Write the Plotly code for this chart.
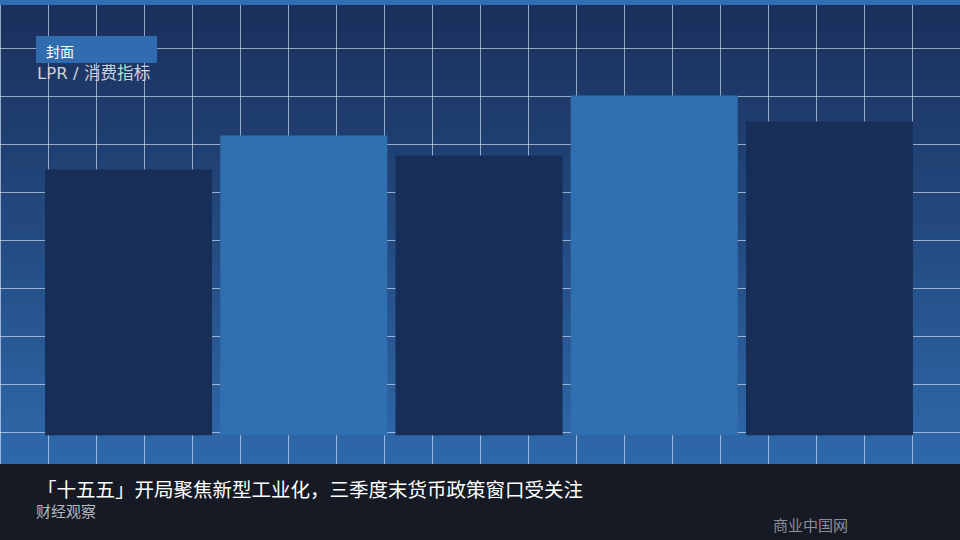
import plotly.graph_objects as go

# ---- data ----
categories = ["指标一", "指标二", "指标三", "指标四", "指标五"]
values = [2.66, 3.00, 2.80, 3.40, 3.14]
bar_colors = ["#172f58", "#3170b0", "#172f58", "#3170b0", "#172f58"]

tag_text = "封面"
subtitle_text = "LPR / 消费指标"
headline_text = "「十五五」开局聚焦新型工业化，三季度末货币政策窗口受关注"
section_text = "财经观察"
source_text = "商业中国网"

W, H = 960, 540
BAND_TOP = 464
FONT = "Noto Sans CJK SC, sans-serif"
FONT_LATIN = "DejaVu Sans, Noto Sans CJK SC, sans-serif"

fig = go.Figure()

# background gradient (pixel-space helper axes x/y)
fig.add_trace(go.Scatter(
    x=[0, W, W, 0, 0], y=[0, 0, BAND_TOP, BAND_TOP, 0],
    mode="lines", line=dict(width=0), fill="toself",
    fillgradient=dict(type="vertical", start=0, stop=BAND_TOP,
                      colorscale=[[0, "#1a2f5b"], [0.5, "#234a80"], [1, "#2f69aa"]]),
    hoverinfo="skip", showlegend=False, xaxis="x", yaxis="y"))

# grid lines
gx, gy = [], []
for k in range(0, W + 1, 48):
    gx += [k + 0.5, k + 0.5, None]
    gy += [0, BAND_TOP, None]
for k in range(48, BAND_TOP, 48):
    gx += [0, W, None]
    gy += [k + 0.5, k + 0.5, None]
fig.add_trace(go.Scatter(
    x=gx, y=gy, mode="lines",
    line=dict(color="rgba(215,228,250,0.65)", width=1),
    hoverinfo="skip", showlegend=False, xaxis="x", yaxis="y"))

# bars
fig.add_trace(go.Bar(
    x=categories, y=values, marker=dict(color=bar_colors, line=dict(width=0)),
    showlegend=False, xaxis="x2", yaxis="y2", hoverinfo="skip"))

base_px = 435.5
fig.update_layout(
    width=W, height=H,
    margin=dict(l=0, r=0, t=0, b=0, pad=0),
    paper_bgcolor="#151a24", plot_bgcolor="rgba(0,0,0,0)",
    bargap=0.047,
    xaxis=dict(range=[0, W], domain=[0, 1], visible=False, fixedrange=True),
    yaxis=dict(range=[H, 0], domain=[0, 1], visible=False, fixedrange=True),
    xaxis2=dict(domain=[40.9 / W, 917.1 / W], anchor="y2", visible=False, type="category",
                fixedrange=True),
    yaxis2=dict(domain=[(H - base_px) / H, 1], range=[0, base_px / 100], anchor="x2",
                visible=False, fixedrange=True),
    shapes=[
        dict(type="rect", xref="paper", yref="paper", x0=0, x1=1, y0=1 - 5 / H, y1=1,
             fillcolor="#3170b0", line=dict(width=0), layer="above"),
        dict(type="rect", xref="paper", yref="paper", x0=0, x1=1, y0=0, y1=1 - BAND_TOP / H,
             fillcolor="#151a24", line=dict(width=0), layer="above"),
        dict(type="rect", xref="paper", yref="paper", x0=36 / W, x1=157 / W,
             y0=1 - 63 / H, y1=1 - 36 / H,
             fillcolor="#2f6db0", line=dict(width=0), layer="above"),
    ],
    annotations=[
        dict(text=tag_text, xref="paper", yref="paper", x=44 / W, y=1 - 50.5 / H,
             xanchor="left", yanchor="middle", showarrow=False,
             font=dict(family=FONT, size=14, color="#ffffff")),
        dict(text=subtitle_text, xref="paper", yref="paper", x=35 / W, y=1 - 73 / H,
             xanchor="left", yanchor="middle", showarrow=False,
             font=dict(family=FONT_LATIN, size=16.6, color="#c9d2de")),
        dict(text=headline_text, xref="paper", yref="paper", x=35 / W, y=1 - 488.5 / H,
             xanchor="left", yanchor="middle", showarrow=False,
             font=dict(family=FONT, size=19.5, color="#ffffff")),
        dict(text=section_text, xref="paper", yref="paper", x=34 / W, y=1 - 510 / H,
             xanchor="left", yanchor="middle", showarrow=False,
             font=dict(family=FONT, size=15, color="#b4b8c0")),
        dict(text=source_text, xref="paper", yref="paper", x=771 / W, y=1 - 524.5 / H,
             xanchor="left", yanchor="middle", showarrow=False,
             font=dict(family=FONT, size=15, color="#8b8f97")),
    ],
)

fig.write_html("out.html", config={"displayModeBar": False},
               post_script="document.body.style.margin='0';document.body.style.padding='0';")
